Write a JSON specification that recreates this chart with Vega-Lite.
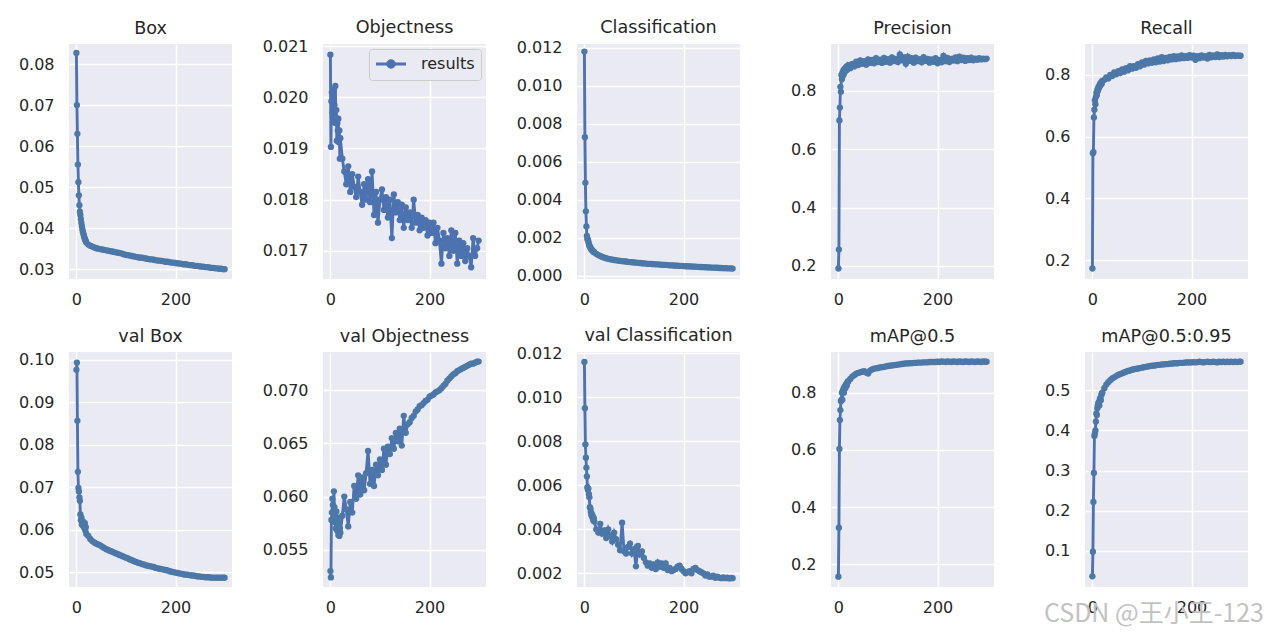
{
"$schema": "https://vega.github.io/schema/vega-lite/v6.json",
"padding": {"left": 18, "top": 19, "right": 5, "bottom": 5},
"background": "white",
"data": {"values": [
{"e":0,"box":0.0827,"obj":0.02083,"cls":0.0118,"p":0.191,"r":0.173,"vbox":0.0976,"vobj":0.0530,"vcls":0.0116,"m50":0.157,"m95":0.037},
{"e":1,"box":0.0700,"obj":0.01903,"cls":0.0073,"p":0.256,"r":0.546,"vbox":0.0993,"vobj":0.0524,"vcls":0.0095,"m50":0.328,"m95":0.098},
{"e":2,"box":0.0630,"obj":0.01992,"cls":0.0049,"p":0.699,"r":0.550,"vbox":0.0856,"vobj":0.0578,"vcls":0.00785,"m50":0.603,"m95":0.222},
{"e":3,"box":0.0555,"obj":0.02010,"cls":0.0034,"p":0.743,"r":0.662,"vbox":0.0736,"vobj":0.0585,"vcls":0.00725,"m50":0.704,"m95":0.294},
{"e":4,"box":0.0512,"obj":0.01970,"cls":0.0026,"p":0.814,"r":0.687,"vbox":0.0698,"vobj":0.0598,"vcls":0.0068,"m50":0.739,"m95":0.386},
{"e":5,"box":0.0480,"obj":0.02005,"cls":0.0021,"p":0.797,"r":0.718,"vbox":0.0690,"vobj":0.0592,"vcls":0.0064,"m50":0.770,"m95":0.392},
{"e":6,"box":0.0456,"obj":0.01960,"cls":0.00195,"p":0.855,"r":0.705,"vbox":0.0676,"vobj":0.0585,"vcls":0.0059,"m50":0.775,"m95":0.400},
{"e":7,"box":0.0440,"obj":0.02015,"cls":0.0019,"p":0.840,"r":0.728,"vbox":0.0668,"vobj":0.0605,"vcls":0.0058,"m50":0.800,"m95":0.422},
{"e":8,"box":0.0432,"obj":0.01985,"cls":0.0018,"p":0.862,"r":0.742,"vbox":0.0636,"vobj":0.0590,"vcls":0.00585,"m50":0.775,"m95":0.442},
{"e":9,"box":0.0422,"obj":0.01950,"cls":0.0017,"p":0.851,"r":0.735,"vbox":0.0622,"vobj":0.0576,"vcls":0.0056,"m50":0.805,"m95":0.438},
{"e":10,"box":0.0413,"obj":0.02022,"cls":0.0016,"p":0.870,"r":0.752,"vbox":0.0628,"vobj":0.0582,"vcls":0.00545,"m50":0.812,"m95":0.455},
{"e":11,"box":0.0405,"obj":0.01960,"cls":0.00155,"p":0.858,"r":0.748,"vbox":0.0612,"vobj":0.0570,"vcls":0.0050,"m50":0.800,"m95":0.462},
{"e":12,"box":0.0398,"obj":0.01975,"cls":0.0015,"p":0.875,"r":0.760,"vbox":0.0620,"vobj":0.0586,"vcls":0.00495,"m50":0.818,"m95":0.468},
{"e":13,"box":0.0392,"obj":0.01915,"cls":0.00145,"p":0.866,"r":0.757,"vbox":0.0609,"vobj":0.0575,"vcls":0.0048,"m50":0.822,"m95":0.470},
{"e":14,"box":0.0387,"obj":0.01950,"cls":0.0014,"p":0.878,"r":0.766,"vbox":0.0618,"vobj":0.0568,"vcls":0.00465,"m50":0.815,"m95":0.462},
{"e":15,"box":0.0382,"obj":0.01935,"cls":0.00137,"p":0.870,"r":0.763,"vbox":0.0612,"vobj":0.0580,"vcls":0.0047,"m50":0.828,"m95":0.478},
{"e":16,"box":0.0378,"obj":0.01958,"cls":0.00134,"p":0.882,"r":0.772,"vbox":0.0604,"vobj":0.0564,"vcls":0.00455,"m50":0.830,"m95":0.480},
{"e":17,"box":0.0374,"obj":0.01912,"cls":0.00131,"p":0.872,"r":0.768,"vbox":0.0615,"vobj":0.0575,"vcls":0.0046,"m50":0.825,"m95":0.475},
{"e":18,"box":0.0371,"obj":0.01935,"cls":0.00128,"p":0.885,"r":0.776,"vbox":0.0598,"vobj":0.0563,"vcls":0.0044,"m50":0.835,"m95":0.488},
{"e":19,"box":0.0368,"obj":0.01880,"cls":0.00126,"p":0.876,"r":0.772,"vbox":0.0606,"vobj":0.0570,"vcls":0.0045,"m50":0.838,"m95":0.492},
{"e":20,"box":0.0365,"obj":0.01920,"cls":0.00124,"p":0.888,"r":0.780,"vbox":0.0590,"vobj":0.0566,"vcls":0.00435,"m50":0.840,"m95":0.494},
{"e":24,"box":0.0360,"obj":0.01880,"cls":0.00116,"p":0.878,"r":0.784,"vbox":0.0585,"vobj":0.0582,"vcls":0.0040,"m50":0.848,"m95":0.505},
{"e":28,"box":0.0357,"obj":0.01855,"cls":0.00110,"p":0.893,"r":0.792,"vbox":0.0578,"vobj":0.0600,"vcls":0.00385,"m50":0.856,"m95":0.514},
{"e":32,"box":0.0355,"obj":0.01830,"cls":0.00105,"p":0.884,"r":0.788,"vbox":0.0573,"vobj":0.0588,"vcls":0.00425,"m50":0.861,"m95":0.520},
{"e":36,"box":0.0353,"obj":0.01865,"cls":0.00100,"p":0.900,"r":0.800,"vbox":0.0570,"vobj":0.0572,"vcls":0.0038,"m50":0.866,"m95":0.525},
{"e":40,"box":0.0351,"obj":0.01815,"cls":0.00096,"p":0.889,"r":0.796,"vbox":0.0567,"vobj":0.0595,"vcls":0.00395,"m50":0.869,"m95":0.529},
{"e":44,"box":0.0350,"obj":0.01850,"cls":0.00093,"p":0.905,"r":0.808,"vbox":0.0565,"vobj":0.0585,"vcls":0.0036,"m50":0.871,"m95":0.532},
{"e":48,"box":0.0349,"obj":0.01825,"cls":0.00090,"p":0.893,"r":0.802,"vbox":0.0563,"vobj":0.0610,"vcls":0.0040,"m50":0.873,"m95":0.535},
{"e":52,"box":0.0348,"obj":0.01805,"cls":0.00088,"p":0.902,"r":0.812,"vbox":0.0560,"vobj":0.0598,"vcls":0.0037,"m50":0.875,"m95":0.538},
{"e":56,"box":0.0347,"obj":0.01845,"cls":0.00086,"p":0.890,"r":0.806,"vbox":0.0557,"vobj":0.0620,"vcls":0.00345,"m50":0.870,"m95":0.540},
{"e":60,"box":0.0346,"obj":0.01815,"cls":0.00084,"p":0.908,"r":0.818,"vbox":0.0554,"vobj":0.0602,"vcls":0.00385,"m50":0.867,"m95":0.542},
{"e":64,"box":0.0345,"obj":0.01790,"cls":0.00082,"p":0.896,"r":0.810,"vbox":0.0552,"vobj":0.0618,"vcls":0.00355,"m50":0.877,"m95":0.544},
{"e":68,"box":0.0344,"obj":0.01830,"cls":0.00081,"p":0.906,"r":0.822,"vbox":0.0550,"vobj":0.0606,"vcls":0.0033,"m50":0.881,"m95":0.546},
{"e":72,"box":0.0343,"obj":0.01800,"cls":0.00079,"p":0.895,"r":0.815,"vbox":0.0548,"vobj":0.0622,"vcls":0.00305,"m50":0.884,"m95":0.548},
{"e":76,"box":0.0342,"obj":0.01840,"cls":0.00078,"p":0.912,"r":0.828,"vbox":0.0546,"vobj":0.0643,"vcls":0.0043,"m50":0.885,"m95":0.549},
{"e":80,"box":0.0341,"obj":0.01795,"cls":0.00077,"p":0.899,"r":0.820,"vbox":0.0544,"vobj":0.0612,"vcls":0.0030,"m50":0.886,"m95":0.551},
{"e":84,"box":0.0340,"obj":0.01855,"cls":0.00076,"p":0.907,"r":0.828,"vbox":0.0542,"vobj":0.0625,"vcls":0.0029,"m50":0.888,"m95":0.552},
{"e":88,"box":0.0339,"obj":0.01770,"cls":0.00074,"p":0.896,"r":0.823,"vbox":0.0540,"vobj":0.0610,"vcls":0.0032,"m50":0.889,"m95":0.553},
{"e":92,"box":0.0338,"obj":0.01815,"cls":0.00073,"p":0.913,"r":0.835,"vbox":0.0538,"vobj":0.0630,"vcls":0.00335,"m50":0.890,"m95":0.554},
{"e":96,"box":0.0336,"obj":0.01755,"cls":0.00072,"p":0.900,"r":0.828,"vbox":0.0536,"vobj":0.0620,"vcls":0.0029,"m50":0.892,"m95":0.555},
{"e":100,"box":0.0335,"obj":0.01800,"cls":0.00071,"p":0.909,"r":0.840,"vbox":0.0534,"vobj":0.0635,"vcls":0.0031,"m50":0.893,"m95":0.556},
{"e":104,"box":0.0334,"obj":0.01820,"cls":0.00070,"p":0.897,"r":0.833,"vbox":0.0532,"vobj":0.0625,"vcls":0.00232,"m50":0.894,"m95":0.557},
{"e":108,"box":0.0333,"obj":0.01780,"cls":0.00069,"p":0.915,"r":0.845,"vbox":0.0530,"vobj":0.0645,"vcls":0.00325,"m50":0.895,"m95":0.558},
{"e":112,"box":0.0332,"obj":0.01805,"cls":0.00068,"p":0.902,"r":0.837,"vbox":0.0528,"vobj":0.0630,"vcls":0.00285,"m50":0.896,"m95":0.559},
{"e":116,"box":0.0331,"obj":0.01765,"cls":0.00067,"p":0.910,"r":0.847,"vbox":0.0526,"vobj":0.0647,"vcls":0.0030,"m50":0.897,"m95":0.560},
{"e":120,"box":0.0330,"obj":0.01800,"cls":0.00066,"p":0.899,"r":0.839,"vbox":0.0524,"vobj":0.0640,"vcls":0.0027,"m50":0.898,"m95":0.561},
{"e":124,"box":0.0329,"obj":0.01725,"cls":0.00065,"p":0.925,"r":0.850,"vbox":0.0522,"vobj":0.0655,"vcls":0.0025,"m50":0.899,"m95":0.561},
{"e":128,"box":0.0328,"obj":0.01810,"cls":0.00064,"p":0.905,"r":0.841,"vbox":0.0521,"vobj":0.0645,"vcls":0.00235,"m50":0.900,"m95":0.562},
{"e":132,"box":0.0328,"obj":0.01775,"cls":0.00064,"p":0.915,"r":0.853,"vbox":0.0519,"vobj":0.0660,"vcls":0.00245,"m50":0.901,"m95":0.563},
{"e":136,"box":0.0327,"obj":0.01795,"cls":0.00063,"p":0.893,"r":0.843,"vbox":0.0518,"vobj":0.0652,"vcls":0.00225,"m50":0.902,"m95":0.563},
{"e":140,"box":0.0326,"obj":0.01760,"cls":0.00062,"p":0.918,"r":0.857,"vbox":0.0516,"vobj":0.0664,"vcls":0.0024,"m50":0.902,"m95":0.564},
{"e":144,"box":0.0325,"obj":0.01790,"cls":0.00061,"p":0.903,"r":0.845,"vbox":0.0515,"vobj":0.0648,"vcls":0.0022,"m50":0.903,"m95":0.564},
{"e":148,"box":0.0324,"obj":0.01745,"cls":0.00061,"p":0.912,"r":0.855,"vbox":0.0514,"vobj":0.0676,"vcls":0.0025,"m50":0.903,"m95":0.565},
{"e":152,"box":0.0324,"obj":0.01785,"cls":0.00060,"p":0.897,"r":0.847,"vbox":0.0513,"vobj":0.0660,"vcls":0.0023,"m50":0.904,"m95":0.565},
{"e":156,"box":0.0323,"obj":0.01760,"cls":0.00059,"p":0.914,"r":0.858,"vbox":0.0512,"vobj":0.0668,"vcls":0.00245,"m50":0.904,"m95":0.566},
{"e":160,"box":0.0322,"obj":0.01775,"cls":0.00058,"p":0.902,"r":0.850,"vbox":0.0510,"vobj":0.0670,"vcls":0.00225,"m50":0.905,"m95":0.566},
{"e":164,"box":0.0321,"obj":0.01745,"cls":0.00058,"p":0.909,"r":0.861,"vbox":0.0509,"vobj":0.0674,"vcls":0.00245,"m50":0.905,"m95":0.567},
{"e":168,"box":0.0321,"obj":0.01800,"cls":0.00057,"p":0.898,"r":0.851,"vbox":0.0508,"vobj":0.0676,"vcls":0.00215,"m50":0.905,"m95":0.567},
{"e":172,"box":0.0320,"obj":0.01755,"cls":0.00056,"p":0.916,"r":0.860,"vbox":0.0507,"vobj":0.0680,"vcls":0.00225,"m50":0.906,"m95":0.567},
{"e":176,"box":0.0319,"obj":0.01770,"cls":0.00056,"p":0.903,"r":0.853,"vbox":0.0506,"vobj":0.0682,"vcls":0.0021,"m50":0.906,"m95":0.568},
{"e":180,"box":0.0318,"obj":0.01740,"cls":0.00055,"p":0.910,"r":0.863,"vbox":0.0505,"vobj":0.0685,"vcls":0.00215,"m50":0.906,"m95":0.568},
{"e":184,"box":0.0318,"obj":0.01765,"cls":0.00054,"p":0.897,"r":0.854,"vbox":0.0504,"vobj":0.0686,"vcls":0.0022,"m50":0.907,"m95":0.568},
{"e":188,"box":0.0317,"obj":0.01745,"cls":0.00054,"p":0.908,"r":0.861,"vbox":0.0502,"vobj":0.0688,"vcls":0.0023,"m50":0.907,"m95":0.569},
{"e":192,"box":0.0316,"obj":0.01760,"cls":0.00053,"p":0.900,"r":0.855,"vbox":0.0501,"vobj":0.0690,"vcls":0.00235,"m50":0.907,"m95":0.569},
{"e":196,"box":0.0316,"obj":0.01730,"cls":0.00053,"p":0.912,"r":0.864,"vbox":0.0500,"vobj":0.0691,"vcls":0.0022,"m50":0.907,"m95":0.569},
{"e":200,"box":0.0315,"obj":0.01755,"cls":0.00052,"p":0.895,"r":0.856,"vbox":0.0499,"vobj":0.0694,"vcls":0.0021,"m50":0.908,"m95":0.569},
{"e":204,"box":0.0314,"obj":0.01735,"cls":0.00051,"p":0.906,"r":0.862,"vbox":0.0498,"vobj":0.0695,"vcls":0.0020,"m50":0.907,"m95":0.570},
{"e":208,"box":0.0314,"obj":0.01755,"cls":0.00051,"p":0.898,"r":0.849,"vbox":0.0497,"vobj":0.0696,"vcls":0.00205,"m50":0.909,"m95":0.569},
{"e":212,"box":0.0313,"obj":0.01715,"cls":0.00050,"p":0.920,"r":0.861,"vbox":0.0496,"vobj":0.0698,"vcls":0.0021,"m50":0.908,"m95":0.570},
{"e":216,"box":0.0312,"obj":0.01745,"cls":0.00050,"p":0.902,"r":0.854,"vbox":0.0495,"vobj":0.0699,"vcls":0.0020,"m50":0.907,"m95":0.571},
{"e":220,"box":0.0312,"obj":0.01720,"cls":0.00049,"p":0.913,"r":0.863,"vbox":0.0494,"vobj":0.0700,"vcls":0.0022,"m50":0.909,"m95":0.570},
{"e":224,"box":0.0311,"obj":0.01675,"cls":0.00049,"p":0.899,"r":0.856,"vbox":0.0494,"vobj":0.0702,"vcls":0.00225,"m50":0.908,"m95":0.569},
{"e":228,"box":0.0310,"obj":0.01735,"cls":0.00048,"p":0.910,"r":0.861,"vbox":0.0493,"vobj":0.0704,"vcls":0.00215,"m50":0.907,"m95":0.570},
{"e":232,"box":0.0310,"obj":0.01705,"cls":0.00047,"p":0.904,"r":0.853,"vbox":0.0492,"vobj":0.0706,"vcls":0.0021,"m50":0.909,"m95":0.571},
{"e":236,"box":0.0309,"obj":0.01725,"cls":0.00047,"p":0.915,"r":0.865,"vbox":0.0492,"vobj":0.0709,"vcls":0.00205,"m50":0.908,"m95":0.570},
{"e":240,"box":0.0308,"obj":0.01690,"cls":0.00046,"p":0.902,"r":0.857,"vbox":0.0491,"vobj":0.0711,"vcls":0.0020,"m50":0.907,"m95":0.570},
{"e":244,"box":0.0308,"obj":0.01740,"cls":0.00046,"p":0.918,"r":0.863,"vbox":0.0490,"vobj":0.0713,"vcls":0.0019,"m50":0.909,"m95":0.571},
{"e":248,"box":0.0307,"obj":0.01700,"cls":0.00045,"p":0.906,"r":0.858,"vbox":0.0490,"vobj":0.0715,"vcls":0.00195,"m50":0.908,"m95":0.570},
{"e":252,"box":0.0306,"obj":0.01735,"cls":0.00045,"p":0.914,"r":0.866,"vbox":0.0489,"vobj":0.0716,"vcls":0.00185,"m50":0.907,"m95":0.569},
{"e":256,"box":0.0306,"obj":0.01675,"cls":0.00044,"p":0.903,"r":0.858,"vbox":0.0489,"vobj":0.0718,"vcls":0.00185,"m50":0.909,"m95":0.571},
{"e":260,"box":0.0305,"obj":0.01720,"cls":0.00044,"p":0.912,"r":0.864,"vbox":0.0488,"vobj":0.0719,"vcls":0.0019,"m50":0.908,"m95":0.570},
{"e":264,"box":0.0305,"obj":0.01690,"cls":0.00043,"p":0.906,"r":0.859,"vbox":0.0488,"vobj":0.0720,"vcls":0.0018,"m50":0.907,"m95":0.571},
{"e":268,"box":0.0304,"obj":0.01715,"cls":0.00043,"p":0.914,"r":0.865,"vbox":0.0488,"vobj":0.0721,"vcls":0.00185,"m50":0.909,"m95":0.570},
{"e":272,"box":0.0303,"obj":0.01680,"cls":0.00042,"p":0.905,"r":0.860,"vbox":0.0487,"vobj":0.0722,"vcls":0.0018,"m50":0.908,"m95":0.571},
{"e":276,"box":0.0303,"obj":0.01705,"cls":0.00042,"p":0.911,"r":0.864,"vbox":0.0487,"vobj":0.0723,"vcls":0.00178,"m50":0.907,"m95":0.570},
{"e":280,"box":0.0302,"obj":0.01690,"cls":0.00041,"p":0.907,"r":0.861,"vbox":0.0487,"vobj":0.0724,"vcls":0.00182,"m50":0.909,"m95":0.571},
{"e":284,"box":0.0302,"obj":0.01668,"cls":0.00041,"p":0.912,"r":0.865,"vbox":0.0487,"vobj":0.0725,"vcls":0.00178,"m50":0.908,"m95":0.570},
{"e":288,"box":0.0301,"obj":0.01725,"cls":0.00040,"p":0.908,"r":0.861,"vbox":0.0487,"vobj":0.0725,"vcls":0.0018,"m50":0.907,"m95":0.571},
{"e":292,"box":0.0301,"obj":0.01690,"cls":0.00040,"p":0.911,"r":0.863,"vbox":0.0487,"vobj":0.0726,"vcls":0.00177,"m50":0.909,"m95":0.570},
{"e":296,"box":0.0300,"obj":0.01705,"cls":0.00040,"p":0.909,"r":0.862,"vbox":0.0487,"vobj":0.0727,"vcls":0.00179,"m50":0.908,"m95":0.571},
{"e":299,"box":0.0300,"obj":0.01720,"cls":0.00039,"p":0.911,"r":0.862,"vbox":0.0487,"vobj":0.0727,"vcls":0.00178,"m50":0.908,"m95":0.571}
]},
"columns": 5,
"spacing": {"row": 73, "column": 91},
"bounds": "flush",
"resolve": {"scale": {"color": "independent"}, "legend": {"color": "independent"}},
"title": {"text": "CSDN @王小王-123", "orient": "bottom", "anchor": "end", "frame": "bounds", "offset": -13, "dx": 16, "fontSize": 25, "font": "Noto Sans CJK SC", "fontWeight": "normal", "color": "#c2c2c2", "baseline": "top"},
"concat": [
{"title": {"text": "Box", "offset": 6}, "width": 163, "height": 235,
 "mark": {"type": "line", "color": "#4C72B0", "strokeWidth": 2.9, "clip": true, "point": {"filled": true, "size": 40}},
 "encoding": {
  "x": {"field": "e", "type": "quantitative", "scale": {"domain": [-14.95, 313.95], "nice": false, "zero": false}, "axis": {"values": [0, 200], "format": "d"}},
  "y": {"field": "box", "type": "quantitative", "scale": {"domain": [0.0276, 0.0849], "nice": false, "zero": false}, "axis": {"values": [0.03, 0.04, 0.05, 0.06, 0.07, 0.08], "format": ".2f"}}}},
{"title": {"text": "Objectness", "offset": 1}, "width": 163, "height": 235,
 "mark": {"type": "line", "color": "#4C72B0", "strokeWidth": 2.9, "clip": true, "point": {"filled": true, "size": 40}},
 "encoding": {
  "x": {"field": "e", "type": "quantitative", "scale": {"domain": [-14.95, 313.95], "nice": false, "zero": false}, "axis": {"values": [0, 200], "format": "d"}},
  "y": {"field": "obj", "type": "quantitative", "scale": {"domain": [0.01645, 0.02104], "nice": false, "zero": false}, "axis": {"values": [0.017, 0.018, 0.019, 0.020, 0.021], "format": ".3f"}},
  "color": {"datum": "results", "type": "nominal", "scale": {"range": ["#4C72B0"]},
   "legend": {"title": null, "orient": "top-right", "offset": 5, "fillColor": "#EAEAF2", "strokeColor": "#CCCCCC", "cornerRadius": 3, "padding": 6, "labelFontSize": 16, "labelFont": "DejaVu Sans", "labelColor": "#262626", "labelOffset": 21, "symbolOffset": 7,
    "symbolType": "M-2,0L2,0M-0.44,0A0.44,0.44 0 1,1 0.44,0A0.44,0.44 0 1,1 -0.44,0", "symbolSize": 225, "symbolStrokeWidth": 2.9,
    "encode": {"symbols": {"update": {"fill": {"value": "#4C72B0"}, "stroke": {"value": "#4C72B0"}, "strokeWidth": {"value": 2.9}, "opacity": {"value": 1}}}}}}}},
{"title": {"text": "Classification", "offset": 3}, "width": 163, "height": 235,
 "mark": {"type": "line", "color": "#4C72B0", "strokeWidth": 2.9, "clip": true, "point": {"filled": true, "size": 40}},
 "encoding": {
  "x": {"field": "e", "type": "quantitative", "scale": {"domain": [-14.95, 313.95], "nice": false, "zero": false}, "axis": {"values": [0, 200], "format": "d"}},
  "y": {"field": "cls", "type": "quantitative", "scale": {"domain": [-0.00016, 0.0122], "nice": false, "zero": false}, "axis": {"values": [0, 0.002, 0.004, 0.006, 0.008, 0.010, 0.012], "format": ".3f"}}}},
{"title": {"text": "Precision", "offset": 6}, "width": 163, "height": 235,
 "mark": {"type": "line", "color": "#4C72B0", "strokeWidth": 2.9, "clip": true, "point": {"filled": true, "size": 40}},
 "encoding": {
  "x": {"field": "e", "type": "quantitative", "scale": {"domain": [-14.95, 313.95], "nice": false, "zero": false}, "axis": {"values": [0, 200], "format": "d"}},
  "y": {"field": "p", "type": "quantitative", "scale": {"domain": [0.155, 0.961], "nice": false, "zero": false}, "axis": {"values": [0.2, 0.4, 0.6, 0.8], "format": ".1f"}}}},
{"title": {"text": "Recall", "offset": 6}, "width": 163, "height": 235,
 "mark": {"type": "line", "color": "#4C72B0", "strokeWidth": 2.9, "clip": true, "point": {"filled": true, "size": 40}},
 "encoding": {
  "x": {"field": "e", "type": "quantitative", "scale": {"domain": [-14.95, 313.95], "nice": false, "zero": false}, "axis": {"values": [0, 200], "format": "d"}},
  "y": {"field": "r", "type": "quantitative", "scale": {"domain": [0.139, 0.900], "nice": false, "zero": false}, "axis": {"values": [0.2, 0.4, 0.6, 0.8], "format": ".1f"}}}},
{"title": {"text": "val Box", "offset": 6}, "width": 163, "height": 235,
 "mark": {"type": "line", "color": "#4C72B0", "strokeWidth": 2.9, "clip": true, "point": {"filled": true, "size": 40}},
 "encoding": {
  "x": {"field": "e", "type": "quantitative", "scale": {"domain": [-14.95, 313.95], "nice": false, "zero": false}, "axis": {"values": [0, 200], "format": "d"}},
  "y": {"field": "vbox", "type": "quantitative", "scale": {"domain": [0.0465, 0.1018], "nice": false, "zero": false}, "axis": {"values": [0.05, 0.06, 0.07, 0.08, 0.09, 0.10], "format": ".2f"}}}},
{"title": {"text": "val Objectness", "offset": 6}, "width": 163, "height": 235,
 "mark": {"type": "line", "color": "#4C72B0", "strokeWidth": 2.9, "clip": true, "point": {"filled": true, "size": 40}},
 "encoding": {
  "x": {"field": "e", "type": "quantitative", "scale": {"domain": [-14.95, 313.95], "nice": false, "zero": false}, "axis": {"values": [0, 200], "format": "d"}},
  "y": {"field": "vobj", "type": "quantitative", "scale": {"domain": [0.0515, 0.0736], "nice": false, "zero": false}, "axis": {"values": [0.055, 0.060, 0.065, 0.070], "format": ".3f"}}}},
{"title": {"text": "val Classification", "offset": 1}, "width": 163, "height": 235,
 "mark": {"type": "line", "color": "#4C72B0", "strokeWidth": 2.9, "clip": true, "point": {"filled": true, "size": 40}},
 "encoding": {
  "x": {"field": "e", "type": "quantitative", "scale": {"domain": [-14.95, 313.95], "nice": false, "zero": false}, "axis": {"values": [0, 200], "format": "d"}},
  "y": {"field": "vcls", "type": "quantitative", "scale": {"domain": [0.00138, 0.01205], "nice": false, "zero": false}, "axis": {"values": [0.002, 0.004, 0.006, 0.008, 0.010, 0.012], "format": ".3f"}}}},
{"title": {"text": "mAP@0.5", "offset": 6}, "width": 163, "height": 235,
 "mark": {"type": "line", "color": "#4C72B0", "strokeWidth": 2.9, "clip": true, "point": {"filled": true, "size": 40}},
 "encoding": {
  "x": {"field": "e", "type": "quantitative", "scale": {"domain": [-14.95, 313.95], "nice": false, "zero": false}, "axis": {"values": [0, 200], "format": "d"}},
  "y": {"field": "m50", "type": "quantitative", "scale": {"domain": [0.121, 0.942], "nice": false, "zero": false}, "axis": {"values": [0.2, 0.4, 0.6, 0.8], "format": ".1f"}}}},
{"title": {"text": "mAP@0.5:0.95", "offset": 6}, "width": 163, "height": 235,
 "mark": {"type": "line", "color": "#4C72B0", "strokeWidth": 2.9, "clip": true, "point": {"filled": true, "size": 40}},
 "encoding": {
  "x": {"field": "e", "type": "quantitative", "scale": {"domain": [-14.95, 313.95], "nice": false, "zero": false}, "axis": {"values": [0, 200], "format": "d"}},
  "y": {"field": "m95", "type": "quantitative", "scale": {"domain": [0.0104, 0.595], "nice": false, "zero": false}, "axis": {"values": [0.1, 0.2, 0.3, 0.4, 0.5], "format": ".1f"}}}}
],
"config": {
 "view": {"fill": "#EAEAF2", "stroke": null},
 "font": "DejaVu Sans",
 "axis": {"domain": false, "ticks": false, "tickSize": 0, "grid": true, "gridColor": "#FFFFFF", "gridWidth": 1.5, "gridOpacity": 1, "labelFont": "DejaVu Sans", "labelFontSize": 16, "labelColor": "#262626", "title": null},
 "axisY": {"labelPadding": 15},
 "axisX": {"labelPadding": 12},
 "title": {"font": "DejaVu Sans", "fontSize": 17.6, "fontWeight": "normal", "color": "#262626", "offset": 10, "baseline": "alphabetic", "frame": "group"}
}
}
